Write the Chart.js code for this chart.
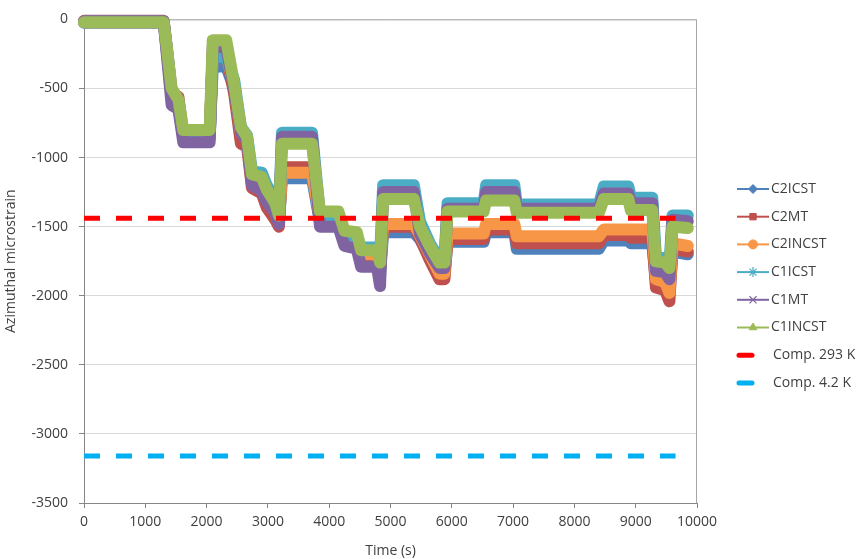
<!DOCTYPE html>
<html>
<head>
<meta charset="utf-8">
<script src="https://cdn.jsdelivr.net/npm/chart.js@4.4.0/dist/chart.umd.min.js"></script>
<style>
  body { margin: 0; background: #fff; }
  #wrap { width: 861px; height: 559px; }
</style>
</head>
<body>
<div id="wrap"><canvas id="strainChart"></canvas></div>
<script>
// time points shared by the six strain series (s)
const times = [0, 1300, 1350, 1430, 1540, 1620, 2050, 2100, 2320, 2450, 2560, 2660, 2740, 2900, 2980,
  3120, 3180, 3230, 3720, 3850, 4150, 4250, 4450, 4520, 4780, 4830, 4880, 5380, 5480, 5640, 5800,
  5880, 5930, 6520, 6560, 7020, 7060, 8400, 8480, 8880, 8920, 9270, 9330, 9480, 9550, 9600, 9850];

const c2icst = [-25, -25, -230, -560, -620, -860, -860, -340, -340, -500, -840, -880, -1180, -1220, -1300,
  -1400, -1470, -1150, -1150, -1470, -1470, -1610, -1620, -1740, -1740, -1850, -1540, -1540, -1590, -1720, -1850,
  -1850, -1610, -1610, -1540, -1540, -1660, -1660, -1600, -1600, -1620, -1620, -1900, -1920, -1980, -1680, -1700];
const c2mt = [-10, -10, -200, -530, -560, -840, -840, -240, -240, -540, -900, -920, -1220, -1260, -1360,
  -1450, -1500, -1070, -1070, -1460, -1460, -1600, -1610, -1720, -1720, -1820, -1500, -1500, -1580, -1740, -1880,
  -1880, -1590, -1590, -1520, -1520, -1620, -1620, -1560, -1560, -1580, -1580, -1940, -1960, -2040, -1660, -1680];
const c2incst = [-20, -20, -220, -540, -620, -830, -830, -250, -250, -480, -820, -870, -1160, -1200, -1280,
  -1380, -1450, -1110, -1110, -1440, -1440, -1580, -1590, -1700, -1700, -1800, -1480, -1480, -1560, -1700, -1840,
  -1840, -1550, -1550, -1480, -1480, -1570, -1570, -1520, -1520, -1520, -1520, -1880, -1900, -1980, -1620, -1640];
const c1icst = [-15, -15, -200, -520, -600, -840, -850, -270, -270, -440, -780, -840, -1100, -1110, -1200,
  -1300, -1400, -820, -820, -1420, -1420, -1560, -1570, -1650, -1650, -1720, -1200, -1200, -1460, -1620, -1740,
  -1740, -1330, -1330, -1200, -1200, -1340, -1340, -1210, -1210, -1290, -1290, -1720, -1730, -1780, -1420, -1420];
const c1mt = [-15, -15, -250, -620, -650, -890, -890, -200, -200, -500, -820, -880, -1200, -1240, -1320,
  -1400, -1480, -850, -850, -1500, -1500, -1640, -1660, -1790, -1790, -1930, -1250, -1250, -1550, -1690, -1800,
  -1800, -1370, -1370, -1250, -1250, -1370, -1370, -1260, -1260, -1330, -1330, -1820, -1830, -1880, -1450, -1460];
const c1incst = [-20, -20, -200, -500, -580, -800, -800, -150, -150, -470, -780, -850, -1120, -1140, -1230,
  -1330, -1420, -900, -900, -1390, -1390, -1530, -1540, -1670, -1670, -1760, -1300, -1300, -1500, -1640, -1760,
  -1760, -1390, -1390, -1310, -1310, -1400, -1400, -1300, -1300, -1380, -1380, -1750, -1760, -1800, -1500, -1510];

// computed reference levels
const compTimes = [0, 9650];
const comp293 = [-1440, -1440];
const comp42 = [-3160, -3160];

const xTicks = [0, 1000, 2000, 3000, 4000, 5000, 6000, 7000, 8000, 9000, 10000];
const yTicks = [0, -500, -1000, -1500, -2000, -2500, -3000, -3500];

const FONT = '"Open Sans", "Noto Sans", sans-serif';
const TXT = '#404040';
const FS = 14;

function pts(xs, ys) {
  return xs.map((x, i) => ({ x: x, y: ys[i] }));
}

const series = [
  { label: 'C2ICST', data: c2icst, color: '#4F81BD', marker: 'rectRot', order: 6 },
  { label: 'C2MT', data: c2mt, color: '#C0504D', marker: 'rect', order: 5 },
  { label: 'C2INCST', data: c2incst, color: '#F79646', marker: 'circle', order: 4 },
  { label: 'C1ICST', data: c1icst, color: '#4BACC6', marker: 'star', order: 3 },
  { label: 'C1MT', data: c1mt, color: '#8064A2', marker: 'crossRot', order: 2 },
  { label: 'C1INCST', data: c1incst, color: '#9BBB59', marker: 'triangle', order: 1 }
];

const datasets = series.map(s => ({
  label: s.label,
  data: pts(times, s.data),
  borderColor: s.color,
  backgroundColor: s.color,
  borderWidth: 12,
  borderJoinStyle: 'round',
  borderCapStyle: 'round',
  pointRadius: 0,
  tension: 0,
  clip: 8,
  order: s.order,
  marker: s.marker
}));

datasets.push({
  label: 'Comp. 293 K', data: pts(compTimes, comp293), borderColor: '#FF0000', backgroundColor: '#FF0000',
  borderWidth: 5, borderDash: [16, 16], pointRadius: 0, order: 0, marker: null
});
datasets.push({
  label: 'Comp. 4.2 K', data: pts(compTimes, comp42), borderColor: '#00B0F0', backgroundColor: '#00B0F0',
  borderWidth: 5, borderDash: [16, 16], pointRadius: 0, order: 0, marker: null
});

// box around the plot area
const plotFrame = {
  id: 'plotFrame',
  beforeDatasetsDraw(chart) {
    const a = chart.chartArea, ctx = chart.ctx;
    ctx.save();
    ctx.strokeStyle = '#a6a6a6';
    ctx.lineWidth = 1;
    ctx.beginPath();
    ctx.moveTo(a.left, a.top + 0.5);
    ctx.lineTo(a.right - 0.5, a.top + 0.5);
    ctx.lineTo(a.right - 0.5, a.bottom);
    ctx.stroke();
    ctx.restore();
  }
};

// excel-like legend: line sample with marker, text to the right
const sideLegend = {
  id: 'sideLegend',
  afterDraw(chart) {
    const ctx = chart.ctx;
    ctx.save();
    ctx.font = FS + 'px ' + FONT;
    ctx.textBaseline = 'middle';
    chart.data.datasets.forEach((ds, i) => {
      const y = 189 + i * 27.7;
      ctx.strokeStyle = ds.borderColor;
      ctx.fillStyle = ds.borderColor;
      if (ds.marker) {
        ctx.lineWidth = 2;
        ctx.beginPath();
        ctx.moveTo(737, y);
        ctx.lineTo(769, y);
        ctx.stroke();
        const hollow = ds.marker === 'star' || ds.marker === 'crossRot';
        ctx.lineWidth = hollow ? 1.2 : 1;
        Chart.helpers.drawPoint(ctx, {
          pointStyle: ds.marker,
          radius: hollow ? 5 : 4.5,
          borderWidth: 1,
          rotation: 0
        }, 753, y);
      } else {
        ctx.lineWidth = 5;
        ctx.lineCap = 'round';
        ctx.beginPath();
        ctx.moveTo(739, y);
        ctx.lineTo(752, y);
        ctx.stroke();
        ctx.lineCap = 'butt';
      }
      ctx.fillStyle = TXT;
      ctx.fillText(ds.label, ds.marker ? 771 : 773, y);
    });
    ctx.restore();
  }
};

new Chart(document.getElementById('strainChart'), {
  type: 'line',
  data: { datasets: datasets },
  options: {
    responsive: true,
    maintainAspectRatio: false,
    animation: false,
    layout: { autoPadding: false, padding: { top: 10, right: 164, left: 0, bottom: 0 } },
    plugins: {
      legend: { display: false },
      tooltip: { enabled: false }
    },
    scales: {
      x: {
        type: 'linear',
        min: 0,
        max: 10000,
        afterBuildTicks: axis => { axis.ticks = xTicks.map(v => ({ value: v })); },
        afterFit: axis => { axis.height = 56; },
        ticks: { font: { family: FONT, size: FS }, color: TXT, padding: 6, maxRotation: 0, callback: v => String(v) },
        grid: { drawOnChartArea: false, drawTicks: true, tickLength: 5, tickColor: '#868686' },
        border: { color: '#868686' },
        title: { display: true, text: 'Time (s)', font: { family: FONT, size: FS }, color: TXT, padding: { top: 2, bottom: 0 } }
      },
      y: {
        type: 'linear',
        min: -3500,
        max: 0,
        afterBuildTicks: axis => { axis.ticks = yTicks.map(v => ({ value: v })); },
        afterFit: axis => { axis.width = 84; },
        ticks: { font: { family: FONT, size: FS }, color: TXT, padding: 11, callback: v => String(v) },
        grid: { color: '#d9d9d9', tickLength: 5, tickColor: '#868686' },
        border: { color: '#868686' },
        title: { display: true, text: 'Azimuthal microstrain', font: { family: FONT, size: FS }, color: TXT, padding: { top: 3, bottom: 3 } }
      }
    }
  },
  plugins: [plotFrame, sideLegend]
});
</script>
</body>
</html>
